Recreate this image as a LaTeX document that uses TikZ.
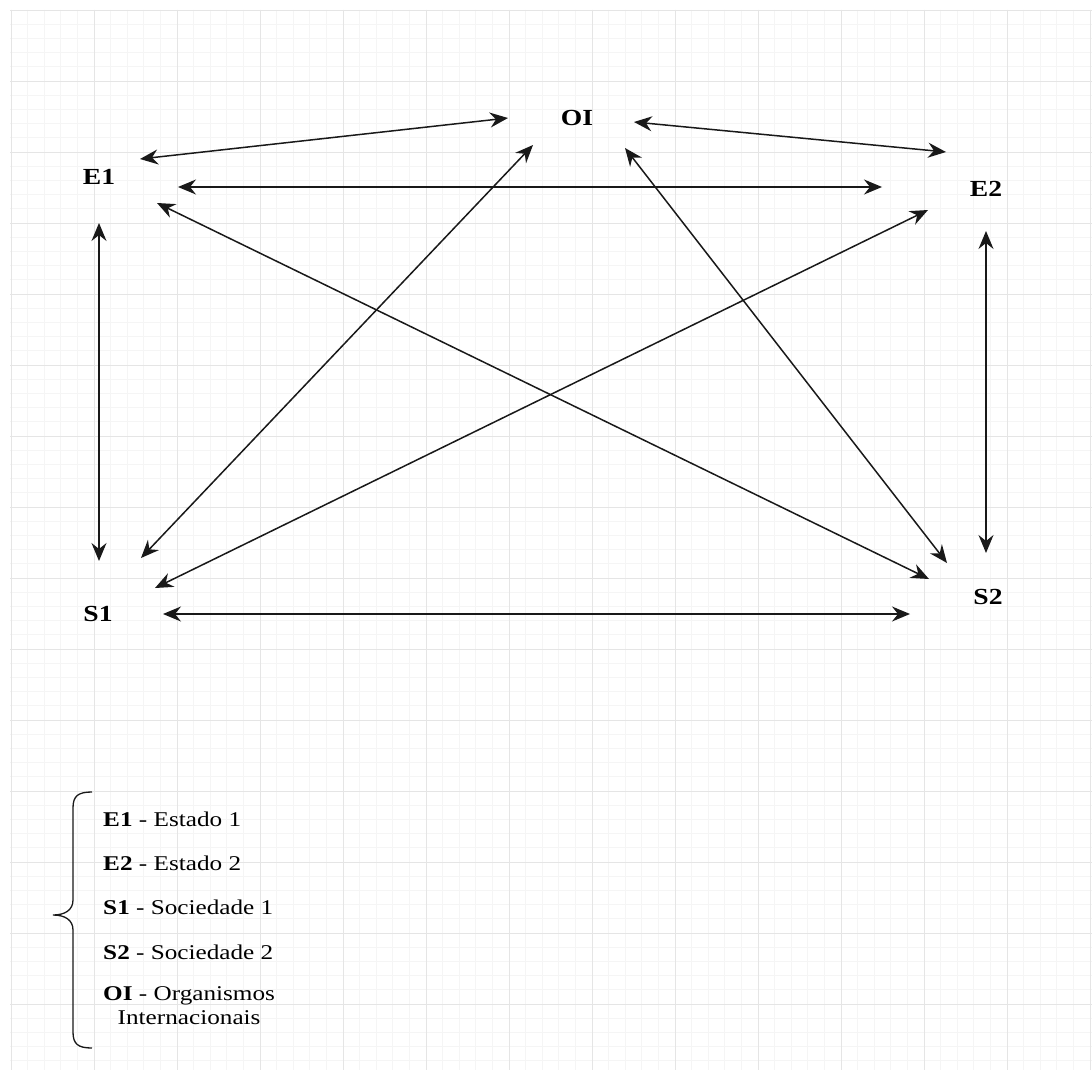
\documentclass[tikz,border=0pt]{standalone}
\usepackage{fontspec}
\setmainfont{Liberation Serif}
\usetikzlibrary{arrows.meta}

\begin{document}
\begin{tikzpicture}[x=1pt, y=-1pt, >={Stealth[length=18pt, width=15pt, inset=6pt]},
	minorline/.style={black!4, line width=0.8pt},
	majorline/.style={black!10, line width=0.9pt},
	actor/.style={font=\fontsize{23}{26}\selectfont\bfseries, transform shape, xscale=1.2, inner sep=0pt},
	link/.style={<->, line width=1.5pt, black!90},
	legend/.style={font=\fontsize{21}{24}\selectfont, transform shape, xscale=1.2, anchor=west, inner sep=0pt, align=center}]
	\useasboundingbox (0,0) rectangle (1092,1070);
	\fill[white] (0,0) rectangle (1092,1070);
	\foreach \i in {0,...,65} {\draw[minorline] ({11+16.6*\i},10) -- ({11+16.6*\i},1070);}
	\foreach \j in {0,...,74} {\draw[minorline] (10,{10+14.2*\j}) -- (1092,{10+14.2*\j});}
	\foreach \i in {0,...,13} {\draw[majorline] ({11+83*\i},10) -- ({11+83*\i},1070);}
	\foreach \j in {0,...,14} {\draw[majorline] (10,{10+71*\j}) -- (1092,{10+71*\j});}

	\node[actor] (OI) at (577,118) {OI};
	\node[actor] (E1) at (99,177) {E1};
	\node[actor] (E2) at (986,189) {E2};
	\node[actor] (S1) at (98,614) {S1};
	\node[actor] (S2) at (988,597) {S2};

	\coordinate (e1-oi) at (140,159);  \coordinate (oi-e1) at (508,118);
	\coordinate (e1-e2) at (178,187);  \coordinate (e2-e1) at (882,187);
	\coordinate (oi-e2) at (634,122);  \coordinate (e2-oi) at (946,152);
	\coordinate (e1-s2) at (157,203);  \coordinate (s2-e1) at (929,579);
	\coordinate (e1-s1) at (99,223);   \coordinate (s1-e1) at (99,561);
	\coordinate (oi-s1) at (533,145);  \coordinate (s1-oi) at (141,558);
	\coordinate (e2-s1) at (928,210);  \coordinate (s1-e2) at (155,588);
	\coordinate (oi-s2) at (625,148);  \coordinate (s2-oi) at (947,563);
	\coordinate (e2-s2) at (986,231);  \coordinate (s2-e2) at (986,553);
	\coordinate (s1-s2) at (163,614);  \coordinate (s2-s1) at (910,614);

	\draw[link] (e1-oi) -- (oi-e1);
	\draw[link] (e1-e2) -- (e2-e1);
	\draw[link] (oi-e2) -- (e2-oi);
	\draw[link] (e1-s2) -- (s2-e1);
	\draw[link] (e1-s1) -- (s1-e1);
	\draw[link] (oi-s1) -- (s1-oi);
	\draw[link] (e2-s1) -- (s1-e2);
	\draw[link] (oi-s2) -- (s2-oi);
	\draw[link] (e2-s2) -- (s2-e2);
	\draw[link] (s1-s2) -- (s2-s1);

	\draw[line width=1.3pt, black!90] (92,792) .. controls (78,792) and (73,796) .. (73,808) -- (73,900)
		.. controls (73,910) and (65,915) .. (53,915) .. controls (65,915) and (73,920) .. (73,930)
		-- (73,1032) .. controls (73,1044) and (78,1048) .. (92,1048);

	\node[legend] (kE1) at (103,819) {\textbf{E1} - Estado 1};
	\node[legend] (kE2) at (103,863) {\textbf{E2} - Estado 2};
	\node[legend] (kS1) at (103,907) {\textbf{S1} - Sociedade 1};
	\node[legend] (kS2) at (103,952) {\textbf{S2} - Sociedade 2};
	\node[legend] (kOI) at (103,1006) {\textbf{OI} - Organismos\\Internacionais};
\end{tikzpicture}
\end{document}
